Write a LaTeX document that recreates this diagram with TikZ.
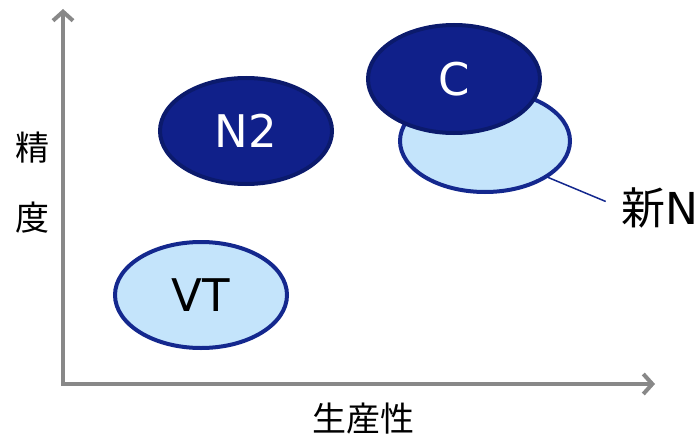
\documentclass[tikz,border=0pt]{standalone}
\usepackage{fontspec}
\setmainfont{DejaVu Sans}
\newfontfamily\cjk{Noto Sans CJK JP}
\usetikzlibrary{arrows.meta, shapes.geometric}
\definecolor{navy}{HTML}{10208A}
\definecolor{navyline}{HTML}{0B1A6C}
\definecolor{pale}{HTML}{C4E4FB}
\definecolor{paleline}{HTML}{14288E}
\definecolor{axisgray}{HTML}{888888}

\begin{document}
\begin{tikzpicture}[x=1pt, y=-1pt,
  axis/.style={draw=axisgray, line width=4pt, line join=miter,
               {Straight Barb[length=9pt, width=20pt]}-{Straight Barb[length=9pt, width=20pt]}},
  blob/.style={ellipse, line width=4pt, minimum width=172pt, minimum height=106pt,
               inner sep=0pt, font=\fontsize{45}{50}\selectfont},
  dark/.style={blob, draw=navyline, fill=navy, text=white},
  light/.style={blob, draw=paleline, fill=pale, text=black},
  cjklabel/.style={font=\cjk\fontsize{34}{70}\selectfont, align=center}
]
  \useasboundingbox (0,0) rectangle (698,436);

  \coordinate (ytip) at (63,9);
  \coordinate (xtip) at (655,384);
  \draw[axis] (ytip) |- (xtip);

  \node[cjklabel] (acc)  at (33,183)  {精\\度};
  \node[cjklabel] (prod) at (363,419) {生産性};

  \node[dark]  (n2) at (246,131) {N2};
  \node[light] (vt) at (201,295) {VT};
  \node[light, minimum width=170pt, minimum height=102pt] (newn) at (485,141) {};
  \node[dark, minimum height=108pt] (c) at (454,79) {C};

  \node[inner sep=0pt, font=\fontsize{44}{48}\selectfont] (newlbl) at (660,208) {{\cjk 新}N};
  \draw[paleline, line width=1.5pt, shorten >=17pt] (newn.-30) -- (newlbl.west);
\end{tikzpicture}
\end{document}
